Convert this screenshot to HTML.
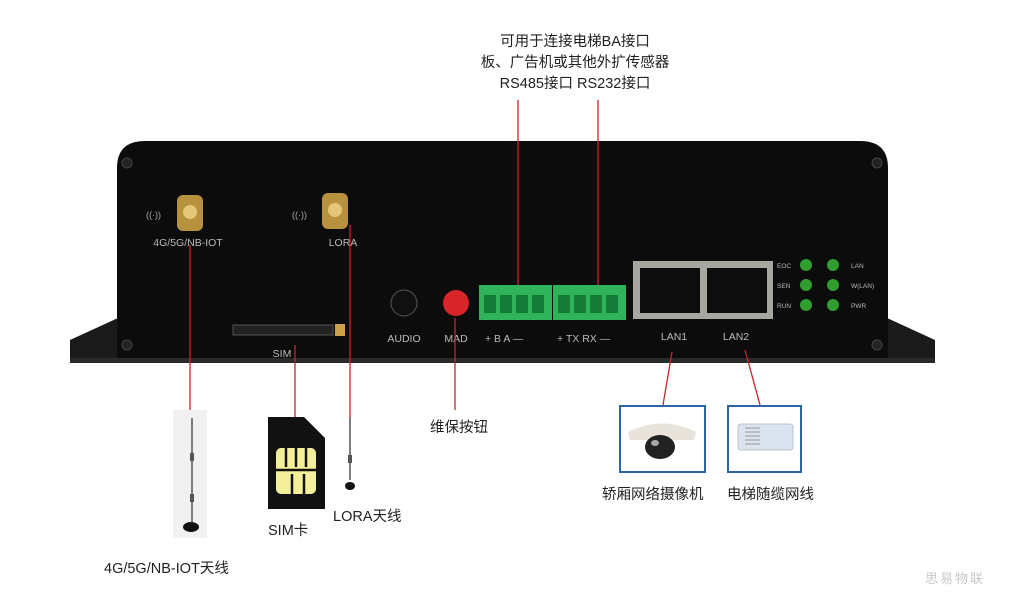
<!DOCTYPE html>
<html><head><meta charset="utf-8"><style>
html,body{margin:0;padding:0;background:#fff;}
svg{display:block;}
text{font-family:"Liberation Sans","Noto Sans CJK SC",sans-serif;}
</style></head><body>
<svg width="1024" height="613" viewBox="0 0 1024 613" xmlns="http://www.w3.org/2000/svg">
<rect width="1024" height="613" fill="#fff"/>
<g font-size="14.5" fill="#222" text-anchor="middle">
<text x="575" y="46">可用于连接电梯BA接口</text>
<text x="575" y="67">板、广告机或其他外扩传感器</text>
<text x="575" y="88">RS485接口  RS232接口</text>
</g>
<polygon points="70,362 70,340 118,318 118,362" fill="#1a1a1a"/>
<polygon points="935,362 935,340 887,318 887,362" fill="#1a1a1a"/>
<path d="M117,362 L117,168 Q117,141 145,141 L860,141 Q888,141 888,168 L888,362 Z" fill="#0c0c0c"/>
<rect x="70" y="358" width="865" height="5" fill="#2a2a2a"/>
<g fill="#222" stroke="#444"><circle cx="127" cy="163" r="5"/><circle cx="877" cy="163" r="5"/><circle cx="127" cy="345" r="5"/><circle cx="877" cy="345" r="5"/></g>
<rect x="177" y="195" width="26" height="36" rx="6" fill="#b8913f"/><circle cx="190" cy="212" r="7" fill="#e6c77a"/>
<rect x="322" y="193" width="26" height="36" rx="6" fill="#b8913f"/><circle cx="335" cy="210" r="7" fill="#e6c77a"/>
<g font-size="9" fill="#aaa"><text x="146" y="218">((·))</text><text x="292" y="218">((·))</text></g>
<g font-size="10.5" fill="#bbb" text-anchor="middle"><text x="188" y="246">4G/5G/NB-IOT</text><text x="343" y="246">LORA</text></g>
<rect x="233" y="325" width="100" height="10" fill="#222" stroke="#555"/>
<rect x="335" y="324" width="10" height="12" fill="#c9a24a"/>
<text x="282" y="357" font-size="10.5" fill="#bbb" text-anchor="middle">SIM</text>
<circle cx="404" cy="303" r="13" fill="#111" stroke="#555"/>
<circle cx="456" cy="303" r="13" fill="#d9242a"/>
<g font-size="10.5" fill="#bbb" text-anchor="middle"><text x="404" y="342">AUDIO</text><text x="456" y="342">MAD</text></g>
<rect x="479" y="285" width="73" height="35" fill="#2eb35a"/>
<rect x="553" y="285" width="73" height="35" fill="#2eb35a"/>
<g fill="#157a38"><rect x="484" y="295" width="12" height="18"/><rect x="500" y="295" width="12" height="18"/><rect x="516" y="295" width="12" height="18"/><rect x="532" y="295" width="12" height="18"/>
<rect x="558" y="295" width="12" height="18"/><rect x="574" y="295" width="12" height="18"/><rect x="590" y="295" width="12" height="18"/><rect x="606" y="295" width="12" height="18"/></g>
<g font-size="10.5" fill="#bbb"><text x="485" y="342">+  B  A —</text><text x="557" y="342">+ TX  RX —</text></g>
<rect x="633" y="261" width="140" height="58" fill="#a8a6a0"/>
<rect x="640" y="268" width="60" height="45" fill="#0d0d0d"/><rect x="707" y="268" width="60" height="45" fill="#0d0d0d"/>
<g font-size="10.5" fill="#bbb" text-anchor="middle"><text x="674" y="340">LAN1</text><text x="736" y="340">LAN2</text></g>
<g fill="#2f9e2f"><circle cx="806" cy="265" r="6"/><circle cx="806" cy="285" r="6"/><circle cx="806" cy="305" r="6"/><circle cx="833" cy="265" r="6"/><circle cx="833" cy="285" r="6"/><circle cx="833" cy="305" r="6"/></g>
<g font-size="6.5" fill="#bbb"><text x="777" y="268">EOC</text><text x="777" y="288">SEN</text><text x="777" y="308">RUN</text><text x="851" y="268">LAN</text><text x="851" y="288">W(LAN)</text><text x="851" y="308">PWR</text></g>
<g stroke="#c0282d" stroke-width="1.3" fill="none">
<line x1="518" y1="100" x2="518" y2="285"/>
<line x1="598" y1="100" x2="598" y2="285"/>
<line x1="190" y1="245" x2="190" y2="418"/>
<line x1="350" y1="225" x2="350" y2="418"/>
<line x1="295" y1="345" x2="295" y2="418"/>
<line x1="455" y1="318" x2="455" y2="410"/>
<line x1="672" y1="352" x2="663" y2="405"/>
<line x1="745" y1="350" x2="760" y2="405"/>
</g>
<rect x="173" y="410" width="34" height="128" fill="#f1f1f1"/>
<line x1="192" y1="418" x2="192" y2="522" stroke="#555" stroke-width="1.5"/>
<rect x="190" y="453" width="4" height="8" fill="#555"/><rect x="190" y="494" width="4" height="8" fill="#555"/>
<ellipse cx="191" cy="527" rx="8" ry="5" fill="#111"/>
<path d="M268,417 L304,417 L325,438 L325,509 L268,509 Z" fill="#111"/>
<rect x="276" y="448" width="40" height="46" rx="5" fill="#f4f09a"/>
<g stroke="#111" stroke-width="2.5"><line x1="286" y1="448" x2="286" y2="467"/><line x1="296" y1="448" x2="296" y2="467"/><line x1="306" y1="448" x2="306" y2="467"/><line x1="276" y1="470" x2="316" y2="470"/><line x1="292" y1="474" x2="292" y2="494"/><line x1="304" y1="474" x2="304" y2="494"/></g>
<line x1="350" y1="418" x2="350" y2="480" stroke="#555" stroke-width="1.5"/>
<rect x="348" y="455" width="4" height="8" fill="#555"/>
<ellipse cx="350" cy="486" rx="5" ry="4" fill="#111"/>
<rect x="620" y="406" width="85" height="66" fill="#fff" stroke="#2d64a8" stroke-width="2"/>
<path d="M628,432 Q662,415 696,432 L694,440 L630,440 Z" fill="#e8e4dc"/>
<ellipse cx="660" cy="447" rx="15" ry="12" fill="#222"/>
<ellipse cx="655" cy="443" rx="4" ry="3" fill="#aaa"/>
<rect x="728" y="406" width="73" height="66" fill="#fff" stroke="#2d64a8" stroke-width="2"/>
<rect x="738" y="424" width="55" height="26" rx="3" fill="#dbe4ee" stroke="#b8c4d2"/>
<g stroke="#999" stroke-width="1"><line x1="745" y1="428" x2="760" y2="428"/><line x1="745" y1="432" x2="760" y2="432"/><line x1="745" y1="436" x2="760" y2="436"/><line x1="745" y1="440" x2="760" y2="440"/><line x1="745" y1="444" x2="760" y2="444"/></g>
<g font-size="14.5" fill="#222">
<text x="430" y="432">维保按钮</text>
<text x="268" y="535">SIM卡</text>
<text x="333" y="521">LORA天线</text>
<text x="104" y="573">4G/5G/NB-IOT天线</text>
<text x="602" y="499">轿厢网络摄像机</text>
<text x="727" y="499">电梯随缆网线</text>
</g>
<text x="925" y="583" font-size="13" fill="#c8c8c8" font-family="'Noto Serif CJK SC',serif" letter-spacing="2">思易物联</text>
</svg>
</body></html>
